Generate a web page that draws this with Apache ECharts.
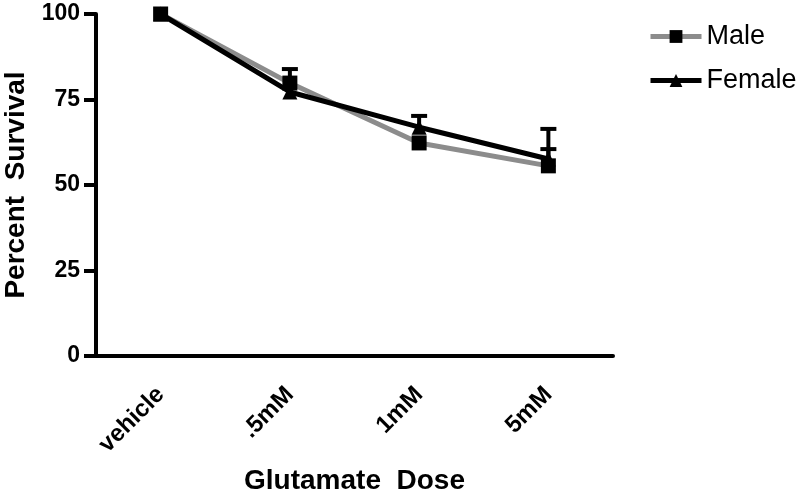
<!DOCTYPE html>
<html><head><meta charset="utf-8">
<script src="https://cdn.jsdelivr.net/npm/echarts@6/dist/echarts.min.js"></script>
<style>html,body{margin:0;padding:0;background:#fff}#c{width:800px;height:494px}</style>
</head><body><div id="c"></div>
<script>
const categories = ['vehicle', '.5mM', '1mM', '5mM'];
const maleValues = [100, 79.8, 62.3, 55.6];
const femaleValues = [100, 77.2, 66.9, 57.6];
const maleErrUpper = [100, 83.9, 62.3, 60.5];
const femaleErrUpper = [100, 77.2, 70.2, 66.4];
const yTicks = [0, 25, 50, 75, 100];

const FONT = '"Liberation Sans", Arial, sans-serif';
const chart = echarts.init(document.getElementById('c'));

function errSeries(name, vals, tops) {
  return {
    type: 'custom', name: name + ' err', silent: true, z: 5,
    data: vals.map((v, i) => [i, v, tops[i]]),
    renderItem: function (params, api) {
      const v = api.value(1), t = api.value(2);
      if (t <= v) return null;
      const p0 = api.coord([api.value(0), v]);
      const p1 = api.coord([api.value(0), t]);
      const cap = 8;
      return { type: 'group', children: [
        { type: 'line', shape: { x1: p0[0], y1: p0[1], x2: p1[0], y2: p1[1] }, style: { stroke: '#000', lineWidth: 4 } },
        { type: 'line', shape: { x1: p1[0] - cap, y1: p1[1], x2: p1[0] + cap, y2: p1[1] }, style: { stroke: '#000', lineWidth: 4 } }
      ]};
    }
  };
}

chart.setOption({
  animation: false,
  backgroundColor: '#fff',
  grid: { left: 96, right: 187, top: 14, bottom: 138, containLabel: false, outerBoundsMode: 'none' },
  legend: {
    orient: 'vertical', left: 643, top: 18, itemGap: 17,
    itemWidth: 51, itemHeight: 16,
    data: [
      { name: 'Male', lineStyle: { width: 5, color: '#8c8c8c' } },
      { name: 'Female', lineStyle: { width: 5, color: '#000' } }
    ],
    textStyle: { fontSize: 27, fontFamily: FONT, color: '#000', padding: [0, 0, 0, 0] }
  },
  xAxis: {
    type: 'category', data: categories, boundaryGap: true,
    name: 'Glutamate  Dose', nameLocation: 'middle', nameGap: 111,
    nameTextStyle: { fontSize: 28, fontWeight: 'bold', fontFamily: FONT, color: '#000' },
    axisLine: { lineStyle: { color: '#000', width: 4 } },
    axisTick: { alignWithLabel: true, length: 9, lineStyle: { color: '#000', width: 4 } },
    axisLabel: { rotate: 45, fontSize: 24, fontWeight: 'bold', fontFamily: FONT, color: '#000', margin: 35 },
    splitLine: { show: false }
  },
  yAxis: {
    type: 'value', min: 0, max: 100, interval: 25,
    name: 'Percent  Survival', nameLocation: 'middle', nameGap: 64,
    nameTextStyle: { fontSize: 28, fontWeight: 'bold', fontFamily: FONT, color: '#000' },
    axisLine: { show: true, lineStyle: { color: '#000', width: 4 } },
    axisTick: { show: true, length: 12, lineStyle: { color: '#000', width: 4 } },
    axisLabel: { fontSize: 23, fontWeight: 'bold', fontFamily: FONT, color: '#000', margin: 16,
      formatter: v => yTicks.includes(v) ? String(v) : '' },
    splitLine: { show: false }
  },
  series: [
    errSeries('Male', maleValues, maleErrUpper),
    errSeries('Female', femaleValues, femaleErrUpper),
    {
      name: 'Male', type: 'line', data: maleValues, z: 3,
      symbol: 'rect', symbolSize: 15,
      lineStyle: { color: '#8c8c8c', width: 5 },
      itemStyle: { color: '#000' }
    },
    {
      name: 'Female', type: 'line', data: femaleValues, z: 4,
      symbol: 'triangle', symbolSize: 15,
      lineStyle: { color: '#000', width: 5 },
      itemStyle: { color: '#000' }
    }
  ]
});
</script></body></html>
